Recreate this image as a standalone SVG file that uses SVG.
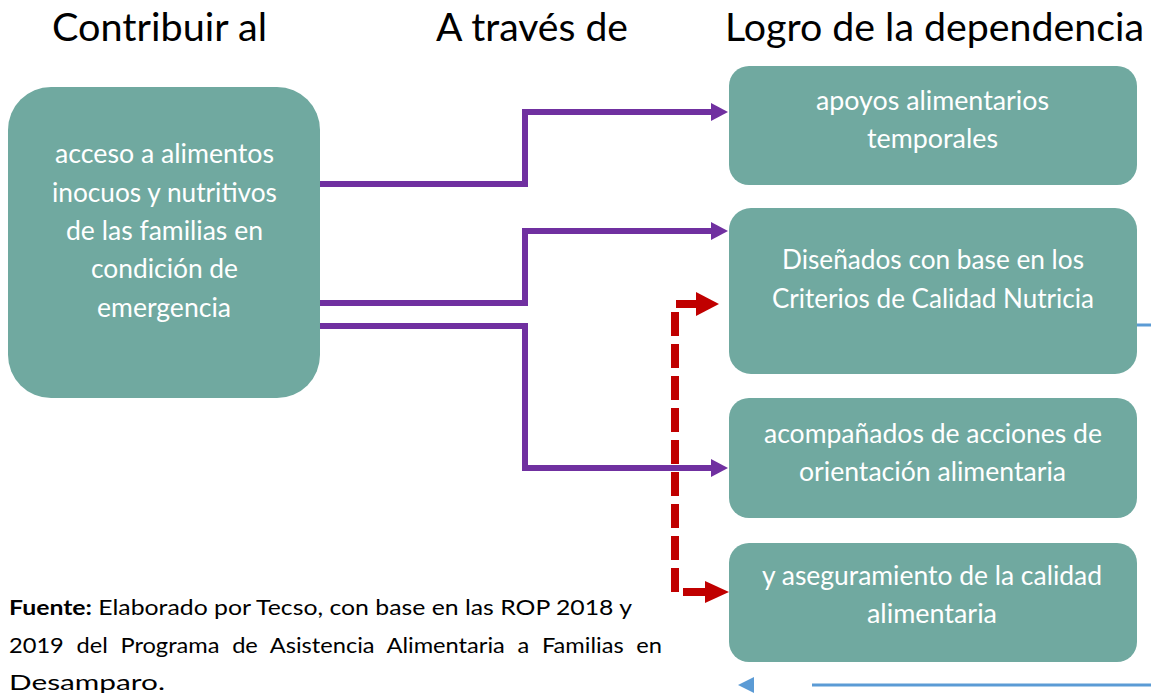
<svg xmlns="http://www.w3.org/2000/svg" width="1151" height="693" viewBox="0 0 1151 693">
<style>
.node{fill:#70A9A0}
.hdr{font-family:Lato,"Open Sans",sans-serif;font-size:38px;fill:#000}
.nt{font-family:Lato,"Open Sans",sans-serif;font-size:26px;fill:#fff;text-anchor:middle}
.fn{font-family:Lato,"Open Sans",sans-serif;font-size:21.5px;fill:#000}
.pl{fill:none;stroke:#7030A0;stroke-width:6;marker-end:url(#pa)}
.red{stroke:#C00000;stroke-width:8;fill:none}
.blue{stroke:#5B9BD5;stroke-width:3;fill:none}
</style>
<defs>
<marker id="pa" markerUnits="userSpaceOnUse" markerWidth="18" markerHeight="18" refX="1" refY="9" orient="auto">
<path d="M0,0 L17,9 L0,18 z" fill="#7030A0"/>
</marker>
</defs>
<rect width="1151" height="693" fill="#fff"/>
<g id="headers">
<text class="hdr" x="52" y="41" textLength="215" lengthAdjust="spacingAndGlyphs">Contribuir al</text>
<text class="hdr" x="436" y="41" textLength="192" lengthAdjust="spacingAndGlyphs">A través de</text>
<text class="hdr" x="725" y="41" textLength="419" lengthAdjust="spacingAndGlyphs">Logro de la dependencia</text>
</g>
<g id="connectors">
<g id="red-dashed">
<line class="red" x1="676" y1="304" x2="698" y2="304"/>
<polygon points="696,292 719,304 696,316" fill="#C00000"/>
<line class="red" x1="675" y1="312" x2="675" y2="592" stroke-dasharray="24 8"/>
<line class="red" x1="683" y1="592" x2="706" y2="592"/>
<polygon points="705,581 729,592 705,603" fill="#C00000"/>
</g>
<path class="pl" d="M320,184 H525 V112 H712"/>
<path class="pl" d="M320,303 H525 V231 H712"/>
<path class="pl" d="M320,326 H525 V468 H712"/>
<line class="blue" x1="1137" y1="325" x2="1151" y2="325"/>
<polygon points="738,685 754,677 754,693" fill="#5B9BD5"/>
<line class="blue" x1="812" y1="685" x2="1151" y2="685"/>
</g>
<g id="node-main">
<rect class="node" x="8" y="87" width="312" height="311" rx="43"/>
<text class="nt" x="164.5" y="163" textLength="219" lengthAdjust="spacingAndGlyphs">acceso a alimentos</text>
<text class="nt" x="164.5" y="202" textLength="225" lengthAdjust="spacingAndGlyphs">inocuos y nutritivos</text>
<text class="nt" x="164.5" y="240" textLength="197" lengthAdjust="spacingAndGlyphs">de las familias en</text>
<text class="nt" x="164.5" y="278" textLength="147" lengthAdjust="spacingAndGlyphs">condición de</text>
<text class="nt" x="164" y="317" textLength="134" lengthAdjust="spacingAndGlyphs">emergencia</text>
</g>
<g id="node-apoyos">
<rect class="node" x="729" y="66" width="408" height="119" rx="20"/>
<text class="nt" x="932.5" y="110" textLength="233" lengthAdjust="spacingAndGlyphs">apoyos alimentarios</text>
<text class="nt" x="932.5" y="148" textLength="131" lengthAdjust="spacingAndGlyphs">temporales</text>
</g>
<g id="node-disenados">
<rect class="node" x="729" y="208" width="408" height="166" rx="22"/>
<text class="nt" x="933" y="269" textLength="302" lengthAdjust="spacingAndGlyphs">Diseñados con base en los</text>
<text class="nt" x="933" y="308" textLength="322" lengthAdjust="spacingAndGlyphs">Criterios de Calidad Nutricia</text>
</g>
<g id="node-acompanados">
<rect class="node" x="729" y="398" width="408" height="120" rx="20"/>
<text class="nt" x="933" y="443" textLength="338" lengthAdjust="spacingAndGlyphs">acompañados de acciones de</text>
<text class="nt" x="932.5" y="481" textLength="267" lengthAdjust="spacingAndGlyphs">orientación alimentaria</text>
</g>
<g id="node-aseguramiento">
<rect class="node" x="729" y="543" width="408" height="119" rx="20"/>
<text class="nt" x="932" y="585" textLength="340" lengthAdjust="spacingAndGlyphs">y aseguramiento de la calidad</text>
<text class="nt" x="932" y="623" textLength="130" lengthAdjust="spacingAndGlyphs">alimentaria</text>
</g>
<g id="footnote">
<text class="fn" x="9" y="615" textLength="623" lengthAdjust="spacingAndGlyphs"><tspan font-weight="bold">Fuente:</tspan> Elaborado por Tecso, con base en las ROP 2018 y</text>
<text class="fn" x="9" y="653" textLength="653" lengthAdjust="spacingAndGlyphs" word-spacing="6">2019 del Programa de Asistencia Alimentaria a Familias en</text>
<text class="fn" x="9" y="690" textLength="156" lengthAdjust="spacingAndGlyphs">Desamparo.</text>
</g>
</svg>
